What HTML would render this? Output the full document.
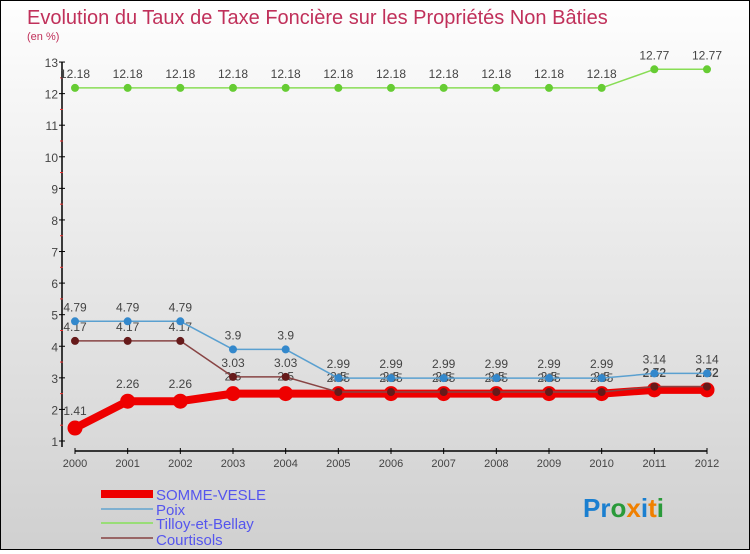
<!DOCTYPE html>
<html><head><meta charset="utf-8"><style>
html,body{margin:0;padding:0}
body{width:750px;height:550px;overflow:hidden;font-family:"Liberation Sans",sans-serif}
#wrap{position:relative;width:748px;height:548px;border:1px solid #000;background:linear-gradient(#fefefe,#d0d0d0)}
svg text{font-family:"Liberation Sans",sans-serif}
</style></head><body>
<div id="wrap">
<svg id="chart" width="748" height="548">
<text x="26" y="23" font-size="20" fill="#c0305a">Evolution du Taux de Taxe Foncière sur les Propriétés Non Bâties</text>
<text x="26" y="39" font-size="11" fill="#c0305a">(en %)</text>
<g id="axes"></g>
<g id="series"></g>
<g id="legend">
<rect x="100" y="489" width="52" height="8" fill="#e00"/>
<text x="155" y="499" font-size="15" fill="#5555ee">SOMME-VESLE</text>
<line x1="100" y1="508" x2="152" y2="508" stroke="#7fb0d0" stroke-width="2"/>
<text x="155" y="514" font-size="15" fill="#5555ee">Poix</text>
<line x1="100" y1="522" x2="152" y2="522" stroke="#99dd77" stroke-width="2"/>
<text x="155" y="528" font-size="15" fill="#5555ee">Tilloy-et-Bellay</text>
<line x1="100" y1="537" x2="152" y2="537" stroke="#996666" stroke-width="2"/>
<text x="155" y="544" font-size="15" fill="#5555ee">Courtisols</text>
</g>
<text x="582" y="516" font-size="26" font-weight="bold"><tspan fill="#1a7fd0">Pr</tspan><tspan fill="#2a9a3a">o</tspan><tspan fill="#f08000">x</tspan><tspan fill="#1a7fd0">i</tspan><tspan fill="#f08000">t</tspan><tspan fill="#2a9a3a">i</tspan></text>
</svg>
</div>
<script>
const years = [2000,2001,2002,2003,2004,2005,2006,2007,2008,2009,2010,2011,2012];
const sommeVesle = [1.41,2.26,2.26,2.5,2.5,2.5,2.5,2.5,2.5,2.5,2.5,2.62,2.62];
const poix = [4.79,4.79,4.79,3.9,3.9,2.99,2.99,2.99,2.99,2.99,2.99,3.14,3.14];
const tilloy = [12.18,12.18,12.18,12.18,12.18,12.18,12.18,12.18,12.18,12.18,12.18,12.77,12.77];
const courtisols = [4.17,4.17,4.17,3.03,3.03,2.55,2.55,2.55,2.55,2.55,2.55,2.72,2.72];
const yTicks = [1,2,3,4,5,6,7,8,9,10,11,12,13];
const NS='http://www.w3.org/2000/svg';
function xs(i){return 74+i*(706-74)/(years.length-1);}
function ys(v){return 440-(v-1)*31.58;}
function mk(tag,attrs,parent){const e=document.createElementNS(NS,tag);for(const k in attrs)e.setAttribute(k,attrs[k]);parent.appendChild(e);return e;}
const axes=document.getElementById('axes');
let e=mk('line',{x1:61,y1:ys(13),x2:61,y2:446,stroke:'#000','stroke-width':1.5},axes);


e=mk('line',{x1:74,y1:450,x2:706,y2:450,stroke:'#000','stroke-width':1.5},axes);


yTicks.forEach(v=>{
  mk('line',{x1:58,y1:ys(v),x2:64,y2:ys(v),stroke:'#000'},axes);
  if(v<13) mk('line',{x1:59,y1:ys(v+0.5),x2:62,y2:ys(v+0.5),stroke:'#e33'},axes);
  const t=mk('text',{x:57,y:ys(v)+5,'font-size':12,fill:'#444','text-anchor':'end'},axes);
  t.textContent=v;
  
  
});
years.forEach((y,i)=>{
  mk('line',{x1:xs(i),y1:447,x2:xs(i),y2:453,stroke:'#000'},axes);
  const t=mk('text',{x:xs(i),y:466,'font-size':11,fill:'#444','text-anchor':'middle'},axes);
  t.textContent=y;
  
  
});
const g=document.getElementById('series');
function series(name,vals,color,dot,w,r,labelDy){
  const grp=mk('g',{},g);
  
  
  const p=mk('polyline',{points:vals.map((v,i)=>xs(i)+','+ys(v)).join(' '),fill:'none',stroke:color,'stroke-width':w,'stroke-linejoin':'round'},grp);
  
  
  vals.forEach((v,i)=>{
    const c=mk('circle',{cx:xs(i),cy:ys(v),r:r,fill:dot},grp);
    
    
    const t=mk('text',{x:xs(i),y:ys(v)-labelDy,'font-size':12,fill:'#444','text-anchor':'middle'},grp);
    t.textContent=v;
    
    
  });
}
series('tilloy',tilloy,'#88dd55','#66cc33',1.5,4,10);
series('somme-vesle',sommeVesle,'#ee0000','#ee0000',8,7.5,13);
series('courtisols',courtisols,'#884444','#661a1a',1.5,4,10);
series('poix',poix,'#5aa0d0','#3388cc',1.5,4,10);
</script>
</body></html>
